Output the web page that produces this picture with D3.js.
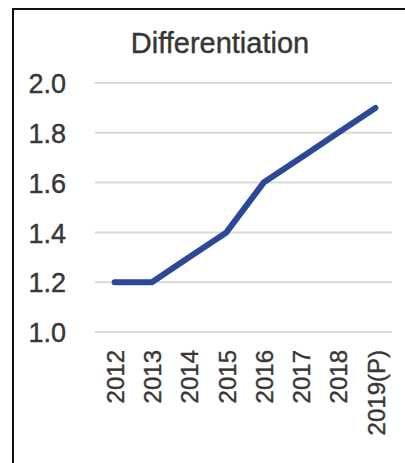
<!DOCTYPE html>
<html>
<head>
<meta charset="utf-8">
<script src="https://cdn.jsdelivr.net/npm/d3@7"></script>
<style>
  html, body { margin: 0; padding: 0; background: #fff; }
  text { font-family: "Liberation Sans", Arial, sans-serif; }
</style>
</head>
<body>
<div id="chart"></div>
<script>
const years = ["2012", "2013", "2014", "2015", "2016", "2017", "2018", "2019(P)"];
const values = [1.2, 1.2, 1.3, 1.4, 1.6, 1.7, 1.8, 1.9];
const yTicks = [1.0, 1.2, 1.4, 1.6, 1.8, 2.0];
const title = "Differentiation";

const width = 405, height = 463;
const textColor = "#383636";

const svg = d3.select("#chart")
  .append("svg")
  .attr("width", width)
  .attr("height", height);

// frame (only top and left edges are visible in the crop)
svg.append("path")
  .attr("d", `M13,${height} L13,9 L${width},9`)
  .attr("fill", "none")
  .attr("stroke", "#111")
  .attr("stroke-width", 2);

const x = d3.scalePoint()
  .domain(years)
  .range([96, 394])
  .padding(0.5);

const y = d3.scaleLinear()
  .domain([1.0, 2.0])
  .range([332, 83]);

// gridlines
svg.append("g")
  .selectAll("line")
  .data(yTicks)
  .join("line")
  .attr("x1", 95)
  .attr("x2", 392)
  .attr("y1", d => y(d))
  .attr("y2", d => y(d))
  .attr("stroke", "#d9d9d9")
  .attr("stroke-width", 2);

// y axis labels
const yAxis = svg.append("g")
  .attr("transform", "translate(66,0)")
  .call(d3.axisLeft(y).tickValues(yTicks).tickFormat(d3.format(".1f")).tickSize(0).tickPadding(0));
yAxis.select(".domain").remove();
yAxis.selectAll("text")
  .attr("font-size", 27)
  .attr("fill", textColor)
  .attr("stroke", textColor)
  .attr("stroke-width", 0.4)
  .attr("font-family", "Liberation Sans, Arial, sans-serif")
  .attr("dy", "0.36em");

// x axis labels (rotated)
const xAxis = svg.append("g")
  .attr("transform", "translate(0,350)")
  .call(d3.axisBottom(x).tickSize(0).tickPadding(0));
xAxis.select(".domain").remove();
xAxis.selectAll("text")
  .attr("font-size", 24)
  .attr("fill", textColor)
  .attr("stroke", textColor)
  .attr("stroke-width", 0.4)
  .attr("font-family", "Liberation Sans, Arial, sans-serif")
  .attr("text-anchor", "end")
  .attr("transform", "rotate(-90)")
  .attr("x", 0)
  .attr("y", 0)
  .attr("dy", "0.36em");

// line
const line = d3.line()
  .x((d, i) => x(years[i]))
  .y(d => y(d));

svg.append("path")
  .datum(values)
  .attr("d", line)
  .attr("fill", "none")
  .attr("stroke", "#2c4896")
  .attr("stroke-width", 6)
  .attr("stroke-linejoin", "round")
  .attr("stroke-linecap", "round");

// title
svg.append("text")
  .attr("x", 220)
  .attr("y", 53)
  .attr("text-anchor", "middle")
  .attr("font-size", 29)
  .attr("fill", textColor)
  .attr("stroke", textColor)
  .attr("stroke-width", 0.4)
  .text(title);
</script>
</body>
</html>
